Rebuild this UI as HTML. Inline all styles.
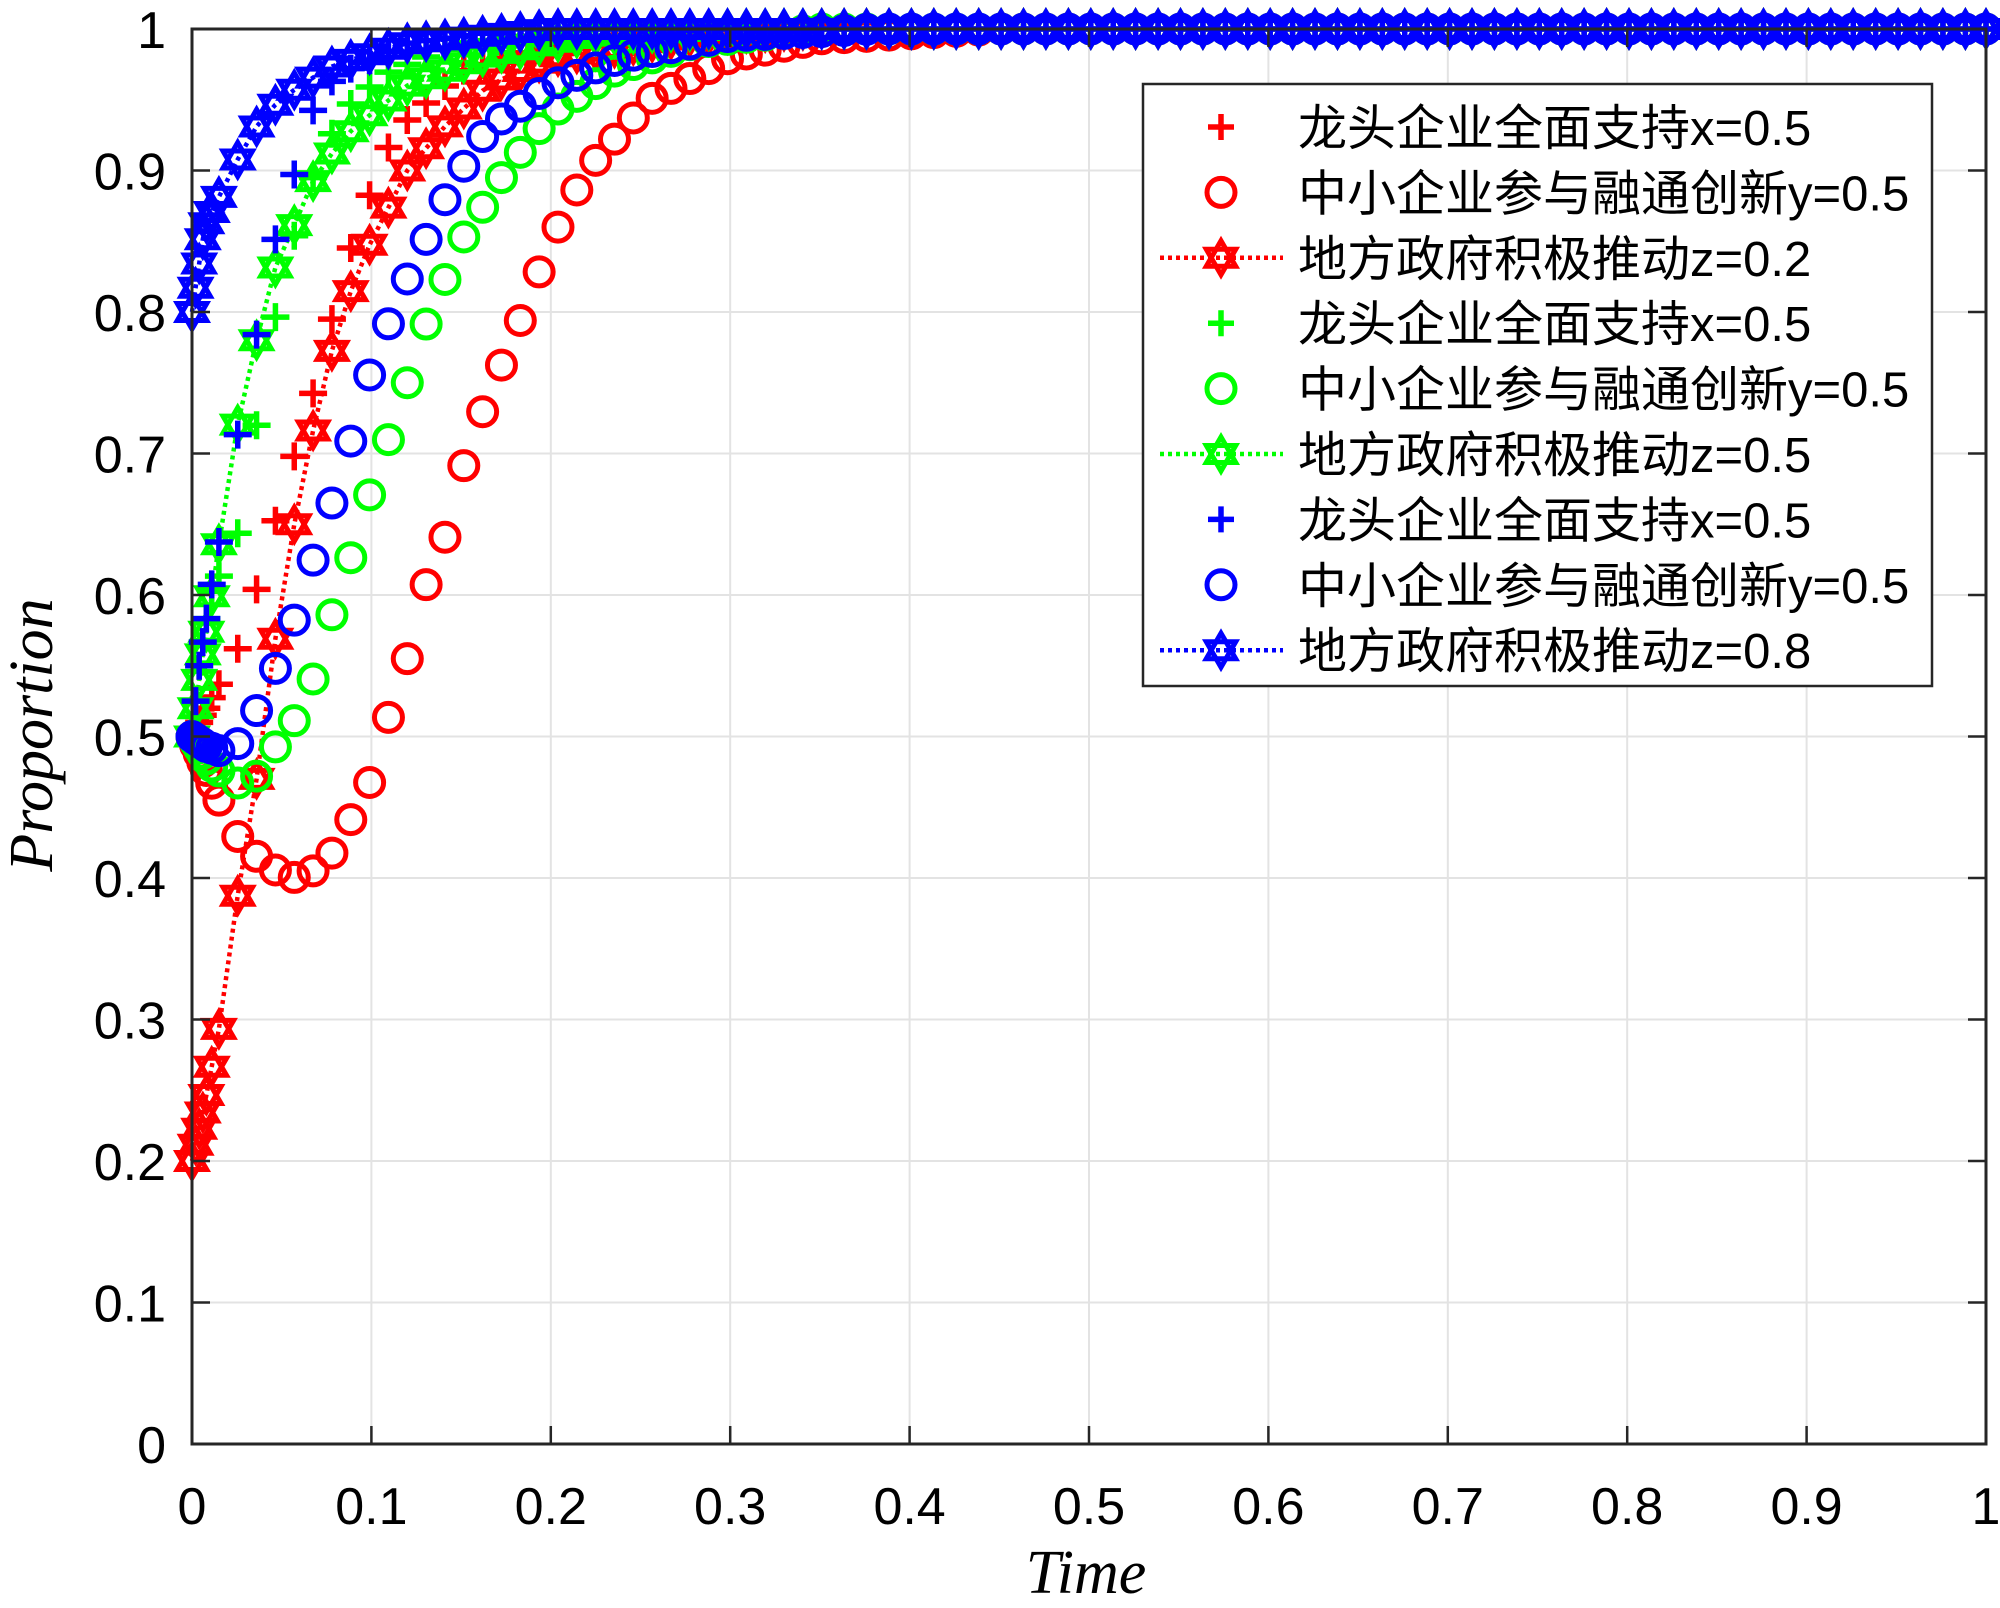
<!DOCTYPE html>
<html><head><meta charset="utf-8">
<style>
html,body{margin:0;padding:0;background:#fff;}
svg{display:block;}
.tk{font-family:"Liberation Sans",sans-serif;font-size:52px;fill:#000;}
.lg{font-family:"Liberation Sans","Noto Sans CJK SC",sans-serif;font-size:49px;fill:#000;}
.ax{font-family:"Liberation Serif",serif;font-style:italic;font-size:62px;fill:#000;}
</style></head>
<body>
<svg id="s" xmlns="http://www.w3.org/2000/svg" width="2000" height="1608" viewBox="0 0 2000 1608">
<rect width="2000" height="1608" fill="#fff"/>
<g id="grid"></g>
<g id="data"></g>
<g id="axes"></g>
<g id="legend"></g>
</svg>
<script>
var NS="http://www.w3.org/2000/svg";
var X0=192,X1=1986,Y0=1444,Y1=29;
function px(t){return X0+(X1-X0)*t;}
function py(v){return Y0-(Y0-Y1)*v;}
function el(p,tag,a,txt){var e=document.createElementNS(NS,tag);for(var k in a)e.setAttribute(k,a[k]);if(txt!=null)e.textContent=txt;p.appendChild(e);return e;}
var grid=document.getElementById('grid'),axes=document.getElementById('axes'),data=document.getElementById('data'),leg=document.getElementById('legend');
for(var i=1;i<10;i++){
  el(grid,'line',{x1:px(i/10),x2:px(i/10),y1:Y0,y2:Y1,stroke:'#e3e3e3','stroke-width':2});
  el(grid,'line',{y1:py(i/10),y2:py(i/10),x1:X0,x2:X1,stroke:'#e3e3e3','stroke-width':2});
}
for(var i=0;i<=10;i++){
  var lab=i==0?'0':(i==10?'1':'0.'+i);
  el(axes,'text',{x:px(i/10),y:1524,'text-anchor':'middle',class:'tk'},lab);
  el(axes,'text',{x:166,y:py(i/10)+19,'text-anchor':'end',class:'tk'},lab);
  if(i>0&&i<10){
    el(axes,'line',{x1:px(i/10),x2:px(i/10),y1:Y0,y2:Y0-18,stroke:'#262626','stroke-width':2.5});
    el(axes,'line',{x1:px(i/10),x2:px(i/10),y1:Y1,y2:Y1+18,stroke:'#262626','stroke-width':2.5});
    el(axes,'line',{y1:py(i/10),y2:py(i/10),x1:X0,x2:X0+18,stroke:'#262626','stroke-width':2.5});
    el(axes,'line',{y1:py(i/10),y2:py(i/10),x1:X1,x2:X1-18,stroke:'#262626','stroke-width':2.5});
  }
}
el(axes,'rect',{x:X0,y:Y1,width:X1-X0,height:Y0-Y1,fill:'none',stroke:'#262626','stroke-width':3});
el(axes,'text',{x:1086,y:1593,'text-anchor':'middle',class:'ax'},'Time');
el(axes,'text',{x:0,y:0,'text-anchor':'middle',class:'ax',transform:'translate(52,735) rotate(-90)'},'Proportion');

function interp(pts,t){
  if(t<=pts[0][0])return pts[0][1];
  for(var i=1;i<pts.length;i++){if(t<=pts[i][0]){var a=pts[i-1],b=pts[i];return a[1]+(b[1]-a[1])*(t-a[0])/(b[0]-a[0]);}}
  return pts[pts.length-1][1];
}
var ts=[0,0.002,0.004,0.006,0.008,0.011,0.015];
var t=0.015;while(t<0.35){t+=0.0105;ts.push(t);}while(t<1){t+=0.0125;ts.push(Math.min(t,1));}
var C={r:'#ff0000',g:'#00ff00',b:'#0000ff'};
var S={
 r:{x:[[0,0.5],[0.012,0.53],[0.025,0.56],[0.04,0.62],[0.05,0.67],[0.065,0.73],[0.077,0.79],[0.087,0.84],[0.097,0.875],[0.105,0.905],[0.115,0.93],[0.15,0.97],[0.2,0.99],[0.3,1]],
    y:[[0,0.5],[0.005,0.485],[0.015,0.455],[0.025,0.43],[0.04,0.41],[0.055,0.40],[0.065,0.402],[0.08,0.42],[0.09,0.445],[0.1,0.47],[0.105,0.5],[0.115,0.53],[0.122,0.565],[0.128,0.6],[0.14,0.635],[0.146,0.67],[0.155,0.705],[0.165,0.74],[0.175,0.77],[0.185,0.8],[0.2,0.85],[0.22,0.9],[0.255,0.95],[0.3,0.98],[0.35,0.993],[0.45,1]],
    z:[[0,0.2],[0.007,0.24],[0.016,0.30],[0.023,0.37],[0.033,0.44],[0.04,0.51],[0.051,0.61],[0.063,0.69],[0.075,0.76],[0.087,0.81],[0.098,0.845],[0.108,0.87],[0.12,0.9],[0.14,0.93],[0.165,0.96],[0.2,0.98],[0.28,0.995],[0.35,1]]},
 g:{x:[[0,0.5],[0.004,0.55],[0.01,0.6],[0.025,0.64],[0.036,0.72],[0.047,0.8],[0.06,0.87],[0.075,0.92],[0.09,0.95],[0.11,0.97],[0.15,0.99],[0.22,1]],
    y:[[0,0.5],[0.01,0.48],[0.025,0.467],[0.035,0.47],[0.045,0.49],[0.062,0.52],[0.07,0.55],[0.08,0.595],[0.087,0.62],[0.1,0.675],[0.115,0.73],[0.13,0.79],[0.15,0.85],[0.175,0.9],[0.2,0.94],[0.235,0.97],[0.28,0.99],[0.35,1]],
    z:[[0,0.5],[0.005,0.55],[0.01,0.59],[0.022,0.7],[0.034,0.77],[0.046,0.83],[0.06,0.87],[0.07,0.9],[0.09,0.93],[0.12,0.96],[0.16,0.98],[0.22,0.995],[0.3,1]]},
 b:{x:[[0,0.5],[0.004,0.55],[0.01,0.6],[0.022,0.69],[0.034,0.77],[0.044,0.84],[0.055,0.89],[0.062,0.915],[0.066,0.935],[0.07,0.955],[0.085,0.97],[0.12,0.99],[0.18,1]],
    y:[[0,0.5],[0.008,0.493],[0.015,0.49],[0.024,0.492],[0.033,0.51],[0.042,0.535],[0.054,0.57],[0.065,0.615],[0.078,0.665],[0.09,0.715],[0.1,0.76],[0.115,0.81],[0.13,0.85],[0.145,0.89],[0.165,0.93],[0.2,0.96],[0.24,0.98],[0.3,0.995],[0.38,1]],
    z:[[0,0.8],[0.007,0.86],[0.022,0.9],[0.04,0.94],[0.06,0.96],[0.08,0.975],[0.12,0.99],[0.2,1]]}
};
function plus(g,x,y,c,s){el(g,'path',{d:'M'+(x-s)+' '+y+'H'+(x+s)+'M'+x+' '+(y-s)+'V'+(y+s),stroke:c,'stroke-width':5.5,fill:'none'});}
function circ(g,x,y,c,r){el(g,'circle',{cx:x,cy:y,r:r,stroke:c,'stroke-width':5,fill:'none'});}
function star(g,x,y,c,r){
  var a=[],b=[];
  for(var k=0;k<3;k++){var an=-Math.PI/2+k*2*Math.PI/3;a.push((x+r*Math.cos(an)).toFixed(1)+','+(y+r*Math.sin(an)).toFixed(1));
    var bn=Math.PI/2+k*2*Math.PI/3;b.push((x+r*Math.cos(bn)).toFixed(1)+','+(y+r*Math.sin(bn)).toFixed(1));}
  el(g,'polygon',{points:a.join(' '),stroke:c,'stroke-width':5,fill:'none','stroke-linejoin':'miter'});
  el(g,'polygon',{points:b.join(' '),stroke:c,'stroke-width':5,fill:'none','stroke-linejoin':'miter'});
}
['r','g','b'].forEach(function(k){
  var c=C[k],s=S[k],g=el(data,'g',{});
  ts.forEach(function(t){plus(g,px(t),py(interp(s.x,t)),c,14);});
  ts.forEach(function(t){circ(g,px(t),py(interp(s.y,t)),c,14);});
  var d='';ts.forEach(function(t,i){d+=(i?'L':'M')+px(t).toFixed(1)+' '+py(interp(s.z,t)).toFixed(1);});
  el(g,'path',{d:d,stroke:c,'stroke-width':4.5,fill:'none','stroke-dasharray':'4 4'});
  ts.forEach(function(t){star(g,px(t),py(interp(s.z,t)),c,17);});
});
// legend
el(leg,'rect',{x:1143,y:84,width:789,height:602,fill:'#fff',stroke:'#262626','stroke-width':2.5});
var labs=['龙头企业全面支持x=0.5','中小企业参与融通创新y=0.5','地方政府积极推动z='];
var zv=['0.2','0.5','0.8'];
for(var i=0;i<9;i++){
  var y=127+i*65.4,k=['r','g','b'][Math.floor(i/3)],c=C[k],m=i%3;
  if(m==0)plus(leg,1221,y,c,13);
  if(m==1)circ(leg,1221,y,c,14);
  if(m==2){el(leg,'line',{x1:1160,x2:1283,y1:y,y2:y,stroke:c,'stroke-width':4.5,'stroke-dasharray':'4 4'});star(leg,1221,y,c,17);}
  el(leg,'text',{x:1298,y:y+18,class:'lg'},m==2?labs[2]+zv[Math.floor(i/3)]:labs[m]);
}
</script>
</body></html>
